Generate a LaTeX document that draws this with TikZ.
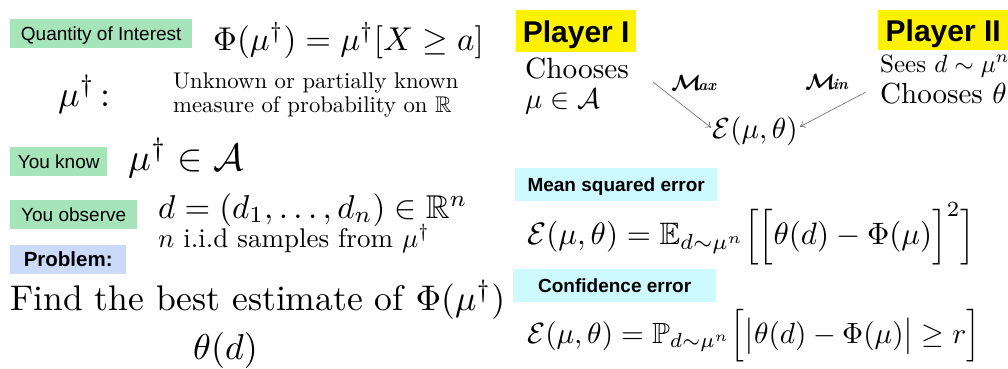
\documentclass[tikz,border=0pt]{standalone}
\usepackage{fontspec}
\usepackage{amsmath,amssymb}
\usepackage{graphicx}
\usetikzlibrary{arrows.meta}
\newfontfamily\arialfont{Liberation Sans}
\newcommand{\fsz}[1]{\fontsize{#1}{#1}\selectfont}
\definecolor{qgreen}{RGB}{166,228,186}
\definecolor{pblue}{RGB}{204,218,250}
\definecolor{ecyan}{RGB}{204,250,255}
\definecolor{arrgray}{RGB}{105,105,105}
\tikzset{
  tagbox/.style={inner sep=0pt, text height=14pt, text depth=0pt, anchor=north west, font=\arialfont\fsz{19}},
  btagbox/.style={tagbox, font=\arialfont\bfseries\fsz{19}},
  ptagbox/.style={inner sep=0pt, text height=22pt, text depth=0pt, anchor=north west, font=\arialfont\bfseries\fsz{30}},
  cmtext/.style={inner sep=0pt, anchor=base west, font=\fsz{10}},
  scrtext/.style={inner sep=0pt, font=\fsz{10}},
  arr/.style={draw=arrgray, line width=0.6pt, -{To[length=5pt,width=7pt]}}
}
\begin{document}
\begin{tikzpicture}[x=1pt,y=-1pt]
\useasboundingbox (0,0) rectangle (1008,368);
% ---------- left column ----------
\node[tagbox, fill=qgreen, minimum width=182pt, minimum height=29pt] (qoi) at (10,18.5) {Quantity of Interest};
\node[cmtext] (phi) at (213,50) {\scalebox{3.3}{$\Phi(\mu^\dagger) = \mu^\dagger[X \geq a]$}};
\node[cmtext] (mudag) at (58,106) {\scalebox{3.6}{$\mu^\dagger$\,:}};
\node[cmtext] (unk1) at (173,88) {\scalebox{2.27}{Unknown or partially known}};
\node[cmtext] (unk2) at (173,112) {\scalebox{2.27}{measure of probability on $\mathbb{R}$}};
\node[tagbox, fill=qgreen, minimum width=97pt, minimum height=29pt] (know) at (10,147) {You know};
\node[cmtext] (muA) at (128,170) {\scalebox{3.8}{$\mu^\dagger \in \mathcal{A}$}};
\node[tagbox, fill=qgreen, minimum width=127pt, minimum height=29pt] (obs) at (10,200) {You observe};
\node[cmtext] (dvec) at (158,218) {\scalebox{3.3}{$d = (d_1,\ldots,d_n) \in \mathbb{R}^n$}};
\node[cmtext] (niid) at (158,247) {\scalebox{2.7}{$n$ i.i.d samples from $\mu^\dagger$}};
\node[btagbox, fill=pblue, minimum width=116pt, minimum height=29pt, font=\arialfont\bfseries\fsz{20.5}] (prob) at (10,245) {Problem:};
\node[cmtext] (find) at (10,310) {\scalebox{3.56}{Find the best estimate of $\Phi(\mu^\dagger)$}};
\node[cmtext] (theta) at (193,359) {\scalebox{3.6}{$\theta(d)$}};
% ---------- right column ----------
\node[ptagbox, fill=yellow, minimum width=120pt, minimum height=42pt] (p1) at (516,10) {Player I};
\node[cmtext] (ch1) at (525,78) {\scalebox{2.93}{Chooses}};
\node[cmtext] (muA1) at (525,108) {\scalebox{2.86}{$\mu \in \mathcal{A}$}};
\node[ptagbox, fill=yellow, minimum width=130pt, minimum height=40pt] (p2) at (878,10) {Player II};
\node[cmtext] (sees) at (880,72) {\scalebox{2.5}{Sees $d \sim \mu^n$}};
\node[cmtext] (ch2) at (880,103) {\scalebox{2.9}{Chooses $\theta$}};
\node[inner sep=0pt, anchor=base, font=\fsz{10}] (E) at (755,138) {\scalebox{2.9}{$\mathcal{E}(\mu,\theta)$}};
\coordinate (s1) at (653,82);
\coordinate (s2) at (866,92);
\draw[arr] (s1) -- ([yshift=3pt,xshift=-1pt]E.west);
\draw[arr] (s2) -- ([yshift=4pt,xshift=2pt]E.east);
\node[scrtext] (mx) at (694,83) {\scalebox{2.2}{\boldmath$\mathcal{M}$\kern-1.5pt\textit{\bfseries\scriptsize ax}}};
\node[scrtext] (mn) at (827,82) {\scalebox{2.2}{\boldmath$\mathcal{M}$\kern-1.5pt\textit{\bfseries\scriptsize in}}};
\node[btagbox, fill=ecyan, minimum width=202pt, minimum height=33pt] (mseb) at (515,168) {Mean squared error};
\node[inner sep=0pt, anchor=west] (mse) at (527,234) {\resizebox{448pt}{!}{$\displaystyle \mathcal{E}(\mu,\theta) = \mathbb{E}_{d\sim\mu^n}\Big[\Big[\theta(d) - \Phi(\mu)\Big]^2\Big]$}};
\node[btagbox, fill=ecyan, minimum width=203pt, minimum height=33pt] (confb) at (513,269) {Confidence error};
\node[inner sep=0pt, anchor=west] (conf) at (527,336) {\resizebox{453pt}{!}{$\displaystyle \mathcal{E}(\mu,\theta) = \mathbb{P}_{d\sim\mu^n}\Big[\big|\theta(d) - \Phi(\mu)\big| \geq r\Big]$}};
\end{tikzpicture}
\end{document}
